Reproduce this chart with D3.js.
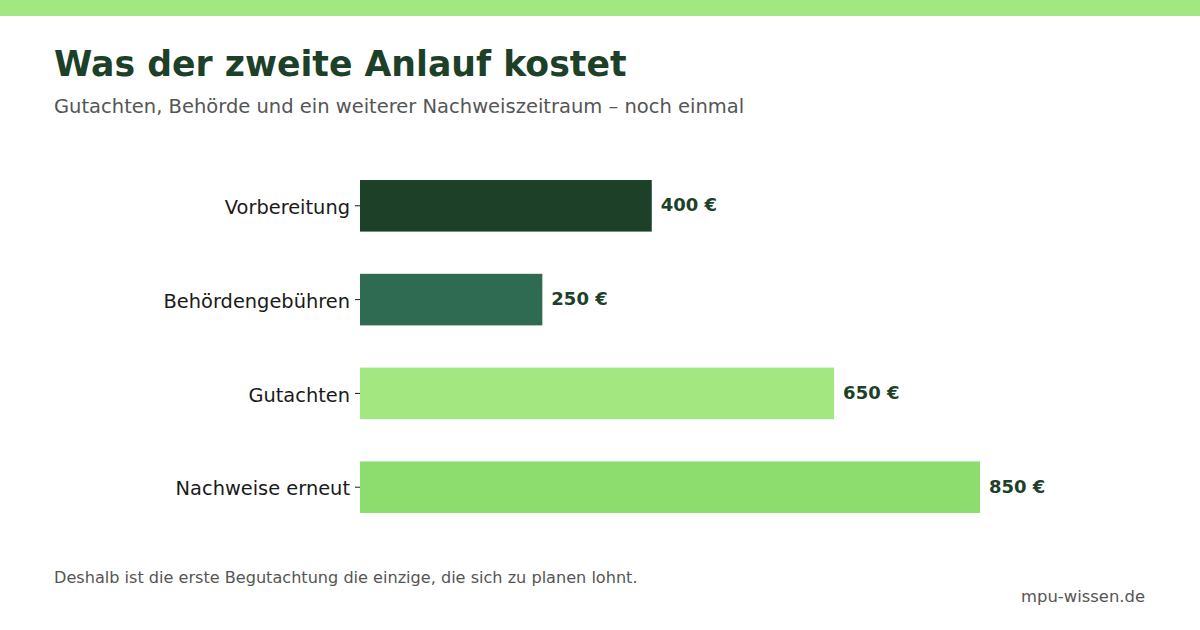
<!DOCTYPE html>
<html>
<head>
<meta charset="utf-8">
<script src="https://cdn.jsdelivr.net/npm/d3@7"></script>
<style>
  body { margin: 0; background: #fff; }
  svg { display: block; font-family: "DejaVu Sans", sans-serif; }
</style>
</head>
<body>
<div id="chart"></div>
<script>
// data
const categories = ['Vorbereitung', 'Behördengebühren', 'Gutachten', 'Nachweise erneut'];
const costs = [400, 250, 650, 850];
const barColors = ['#1d4029', '#2e6b52', '#a2e77f', '#8ddc6e'];

const W = 1200;
const H = 630;

const svg = d3.select('#chart')
  .append('svg')
  .attr('width', W)
  .attr('height', H);

// top stripe
svg.append('rect')
  .attr('x', 0).attr('y', 0)
  .attr('width', W).attr('height', 16)
  .attr('fill', '#a2e77f');

// titles
svg.append('text')
  .attr('x', 54).attr('y', 76)
  .style('font-size', '34.7px')
  .style('font-weight', 'bold')
  .attr('fill', '#1d4029')
  .text('Was der zweite Anlauf kostet');

svg.append('text')
  .attr('x', 54).attr('y', 113)
  .style('font-size', '19.5px')
  .attr('fill', '#555')
  .text('Gutachten, Behörde und ein weiterer Nachweiszeitraum – noch einmal');

// scales
const x = d3.scaleLinear()
  .domain([0, 850])
  .range([360, 980]);

const y = d3.scaleBand()
  .domain(categories)
  .range([180, 513])
  .paddingInner(0.45)
  .paddingOuter(0);

// y axis
const yAxis = svg.append('g')
  .attr('transform', 'translate(360,0)')
  .call(d3.axisLeft(y).tickSize(5).tickPadding(5));
yAxis.select('.domain').remove();
yAxis.selectAll('.tick line').attr('stroke', '#1a1a1a');
yAxis.selectAll('.tick text')
  .attr('fill', '#1a1a1a')
  .attr('dy', '0.42em')
  .style('font-size', '19.4px')
  .style('font-family', '"DejaVu Sans", sans-serif');

// bars
svg.selectAll('.bar')
  .data(categories)
  .enter()
  .append('rect')
  .attr('class', 'bar')
  .attr('x', x(0))
  .attr('y', d => y(d))
  .attr('width', (d, i) => x(costs[i]) - x(0))
  .attr('height', y.bandwidth())
  .attr('fill', (d, i) => barColors[i]);

// value labels
svg.selectAll('.val')
  .data(categories)
  .enter()
  .append('text')
  .attr('class', 'val')
  .attr('x', (d, i) => x(costs[i]) + 9)
  .attr('y', d => y(d) + y.bandwidth() / 2)
  .attr('dy', '0.3em')
  .style('font-size', '18px')
  .style('font-weight', 'bold')
  .attr('fill', '#1d4029')
  .text((d, i) => costs[i] + ' €');

// footer
svg.append('text')
  .attr('x', 54).attr('y', 583)
  .style('font-size', '16.1px')
  .attr('fill', '#555')
  .text('Deshalb ist die erste Begutachtung die einzige, die sich zu planen lohnt.');

svg.append('text')
  .attr('x', 1145).attr('y', 602)
  .attr('text-anchor', 'end')
  .style('font-size', '16.4px')
  .attr('fill', '#555')
  .text('mpu-wissen.de');
</script>
</body>
</html>
